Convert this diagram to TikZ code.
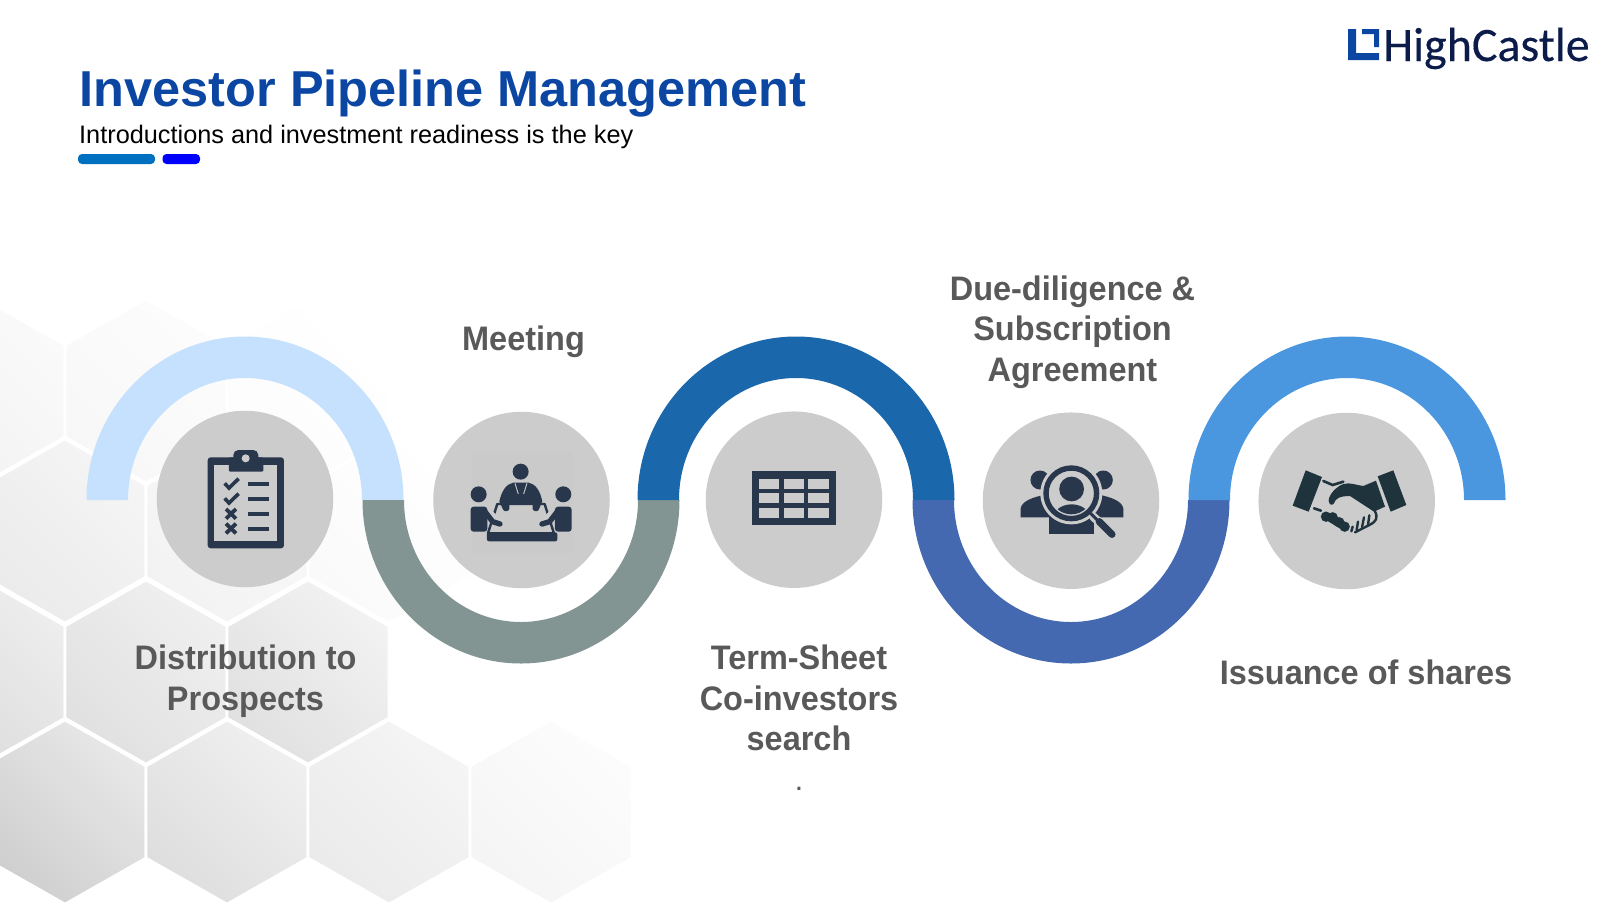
\documentclass[tikz,border=0pt]{standalone}
\usepackage{fontspec}
\setmainfont{Liberation Sans}
\newfontfamily\lblfont[FakeStretch=0.955]{Liberation Sans}
\newfontfamily\logofont[FakeBold=0.25]{Carlito}
\definecolor{titleblue}{HTML}{0B46A3}
\definecolor{bardeep}{HTML}{0070C0}
\definecolor{barblue}{HTML}{0000FF}
\definecolor{lblgray}{HTML}{595959}
\definecolor{discgray}{HTML}{CCCCCC}
\definecolor{icondark}{HTML}{29374D}
\definecolor{shakedark}{HTML}{1F333D}
\definecolor{logonavy}{HTML}{0B1B4A}
\definecolor{arcpale}{HTML}{C5E1FD}
\definecolor{arcsage}{HTML}{829593}
\definecolor{arcdeep}{HTML}{1A67AC}
\definecolor{arcindigo}{HTML}{4469B0}
\definecolor{arcsky}{HTML}{4A97DF}
\tikzset{
	lbl/.style={font=\lblfont\bfseries\fontsize{34}{40.5}\selectfont,text=lblgray,align=center,inner sep=0pt},
	disc/.style={circle,fill=discgray,minimum size=176.5pt,inner sep=0pt},
	hexcell/.style={draw=white,line width=2.6pt,line join=miter},
	iconscope/.style={x=0.3333pt,y=-0.3333pt},
	halo/.style={draw=discgray,line width=#1,line cap=round},
	ink/.style={draw=icondark,line width=#1,line cap=round,line join=round}
}
\begin{document}
\begin{tikzpicture}[x=1pt,y=-1pt]
	\useasboundingbox (0,0) rectangle (1600,903);
	% honeycomb
	\foreach \cx/\cy/\ca/\cb in {
		-16/391/5/2, 146/391/3/1, 308/391/1/0,
		65/531/8/4, 227/531/5/2, 389/531/2/0,
		-16/672/14/7, 146/672/12/6, 308/672/12/5,
		65/812/19/9, 227/812/13/6, 389/812/8/4, 551/812/4/1} {
		\shadedraw[hexcell,bottom color=black!\ca,top color=black!\cb,shading angle=-45]
			(\cx,\cy-92) -- (\cx+81,\cy-46) -- (\cx+81,\cy+46) -- (\cx,\cy+92)
			-- (\cx-81,\cy+46) -- (\cx-81,\cy-46) -- cycle;
	}
	% heading
	\node[anchor=base west,inner sep=0pt,font=\bfseries\fontsize{50.5}{52}\selectfont,text=titleblue] (title) at (79.5,106.5) {Investor Pipeline Management};
	\node[anchor=base west,inner sep=0pt,font=\fontsize{25.3}{27}\selectfont,text=black] (subtitle) at (79,143) {Introductions and investment readiness is the key};
	\fill[bardeep,rounded corners=4pt] (78,154) rectangle (155,164);
	\fill[barblue,rounded corners=4pt] (162.5,154) rectangle (200,164);
	% logo
	\fill[titleblue] (1348,29) -- (1356,29) -- (1356,53) -- (1379,53) -- (1379,60) -- (1348,60) -- cycle;
	\fill[titleblue] (1362,29) -- (1379,29) -- (1379,47) -- (1374,47) -- (1374,34) -- (1362,34) -- cycle;
	\node[anchor=base west,inner sep=0pt,font=\logofont\fontsize{48}{50}\selectfont,text=logonavy] (logo) at (1383,61) {HighCastle};
	% arches
	\foreach \cx/\tone/\aim in {245/arcpale/0, 521/arcsage/360, 796/arcdeep/0, 1071/arcindigo/360, 1347/arcsky/0} {
		\fill[\tone] (\cx-158.5,500) arc[start angle=180,end angle=\aim,x radius=158.5pt,y radius=163.5pt]
			-- (\cx+117,500) arc[start angle=\aim,end angle=180,x radius=117pt,y radius=122pt] -- cycle;
	}
	% discs
	\node[disc] (plan) at (245,499) {};
	\node[disc] (meet) at (521.5,500) {};
	\node[disc] (sheet) at (794,499.7) {};
	\node[disc] (diligence) at (1071,500.7) {};
	\node[disc] (shares) at (1346.7,501) {};
	% clipboard
	\begin{scope}[shift={(150,400)},iconscope]
		\fill[icondark,rounded corners=3pt] (173,172) rectangle (402,445);
		\fill[discgray] (193,195) rectangle (382,423);
		\fill[icondark,rounded corners=1pt] (237,172) rectangle (340,215);
		\fill[icondark,rounded corners=5pt] (250,150) rectangle (325,190);
		\fill[discgray] (287,175) circle[radius=4pt];
		\foreach \y in {252,297,342,386} \draw[icondark,line width=4.3pt] (294,\y) -- (357,\y);
		\foreach \y in {0,45} \draw[icondark,line width=3.6pt] (224,250+\y) -- (237,264+\y) -- (266,236+\y);
		\foreach \y in {342,386} {
			\draw[icondark,line width=3.8pt] (228,\y-15) -- (258,\y+14);
			\draw[icondark,line width=3.8pt] (258,\y-15) -- (228,\y+14);
		}
	\end{scope}
	% meeting table
	\begin{scope}[shift={(150,400)},iconscope]
		\fill[discgray!99!black] (965,155) rectangle (1270,460);
		\draw[icondark,line width=2.4pt,line join=round] (1042,312) -- (1184,312) -- (1212,400) -- (1014,400) -- cycle;
		\fill[icondark,rounded corners=2pt] (1011,397) rectangle (1222,424);
		\draw[halo=8pt] (1022,345) -- (1050,372);
		\draw[halo=8pt] (1204,345) -- (1176,372);
		\fill[icondark] (1112,215) circle[radius=8pt];
		\fill[icondark] (986,283) circle[radius=8pt];
		\fill[icondark] (1240,283) circle[radius=8pt];
		\fill[icondark,rounded corners=3pt] (962,320) -- (1012,320) -- (1012,395) -- (962,395) -- cycle;
		\fill[icondark,rounded corners=3pt] (1215,320) -- (1265,320) -- (1265,395) -- (1215,395) -- cycle;
		\draw[ink=5.4pt] (1005,335) -- (1028,365) -- (1050,372);
		\draw[ink=5.4pt] (1222,335) -- (1199,365) -- (1176,372);
		\fill[icondark] (1048,304) .. controls (1056,270) and (1070,252) .. (1090,248) -- (1136,248)
			.. controls (1156,252) and (1170,270) .. (1177,304) -- (1166,330) .. controls (1162,336) and (1148,334) .. (1148,326) -- (1148,312)
			-- (1078,312) -- (1078,326) .. controls (1078,334) and (1064,336) .. (1060,330) -- cycle;
		\draw[discgray,line width=0.9pt] (1095,250) -- (1105,282);
		\draw[discgray,line width=0.9pt] (1131,250) -- (1121,282);
	\end{scope}
	% grid
	\begin{scope}[shift={(700,400)},iconscope]
		\fill[icondark] (156,213) rectangle (407,375);
		\foreach \x in {177,251,325}
			\foreach \y in {236,279,323}
				\fill[discgray] (\x,\y) rectangle (\x+61,\y+30);
	\end{scope}
	% magnifier over people
	\begin{scope}[shift={(700,400)},iconscope]
		\fill[icondark] (1020,240) circle[radius=9.5pt];
		\fill[icondark] (1210,240) circle[radius=9.5pt];
		\fill[icondark] (962,352) -- (962,325) .. controls (966,304) and (995,292) .. (1040,283) -- (1060,352) -- cycle;
		\fill[icondark] (1270,352) -- (1270,325) .. controls (1266,304) and (1237,292) .. (1192,283) -- (1172,352) -- cycle;
		\fill[icondark] (1048,403) -- (1048,340) -- (1183,340) -- (1183,403) -- cycle;
		\fill[discgray] (1114,280) circle[radius=31pt];
		\draw[icondark,line width=5.4pt] (1114,280) circle[radius=25.3pt];
		\fill[icondark] (1115,267) circle[radius=12.4pt];
		\begin{scope}
			\clip (1114,280) circle[radius=21pt];
			\fill[icondark] (1115,358) ellipse[x radius=19pt,y radius=15pt];
		\end{scope}
		\draw[halo=8.5pt] (1180,350) -- (1236,403);
		\draw[ink=3pt] (1172,340) -- (1196,364);
		\draw[ink=7.2pt] (1198,365) -- (1236,403);
	\end{scope}
	% handshake
	\begin{scope}[shift={(1250,410)},iconscope]
		\fill[shakedark] (167,181) -- (216,201) -- (176,305) -- (128,287) -- cycle;
		\fill[shakedark] (430,181) -- (383,199) -- (422,305) -- (469,285) -- cycle;
		\fill[shakedark] (378,212) -- (340,228) .. controls (320,226) and (300,216) .. (280,222)
			.. controls (258,230) and (236,255) .. (236,272) .. controls (237,284) and (246,288) .. (252,280)
			.. controls (256,266) and (268,258) .. (300,258) -- (372,305) -- (405,290) -- cycle;
		\draw[shakedark,line width=2.6pt,line cap=round] (220,213) -- (248,225) -- (280,215);
		\draw[shakedark,line width=2.6pt,line cap=round] (192,295) -- (213,302);
		\foreach \x/\y in {228/320,248/322,268/337,284/350} \fill[shakedark] (\x,\y) circle[radius=5.2pt];
		\fill[shakedark] (228,330) -- (248,310) -- (295,345) -- (280,362) -- cycle;
		\draw[shakedark,line width=2.4pt,line cap=round] (374,302) .. controls (386,325) and (378,335) .. (358,345) -- (315,367);
		\draw[shakedark,line width=2.4pt,line cap=round] (358,316) -- (354,345);
		\draw[shakedark,line width=2.4pt,line cap=round] (342,322) -- (336,352);
		\draw[shakedark,line width=2.4pt,line cap=round] (324,335) -- (320,360);
		\draw[shakedark,line width=2.4pt,line cap=round] (308,350) -- (304,364);
	\end{scope}
	% step labels
	\node[lbl] (distlbl) at (245.5,681) {Distribution to\\Prospects};
	\node[lbl] (meetlbl) at (523.5,342) {Meeting};
	\node[lbl] (termlbl) at (799,698) {Term-Sheet\\Co-investors\\search};
	\node[lbl,font=\lblfont\bfseries\fontsize{22}{26}\selectfont] (dotlbl) at (799,788.5) {.};
	\node[lbl] (duelbl) at (1072.5,332) {Due-diligence \&\\Subscription\\Agreement};
	\node[lbl] (shareslbl) at (1366,672.5) {Issuance of shares};
\end{tikzpicture}
\end{document}
